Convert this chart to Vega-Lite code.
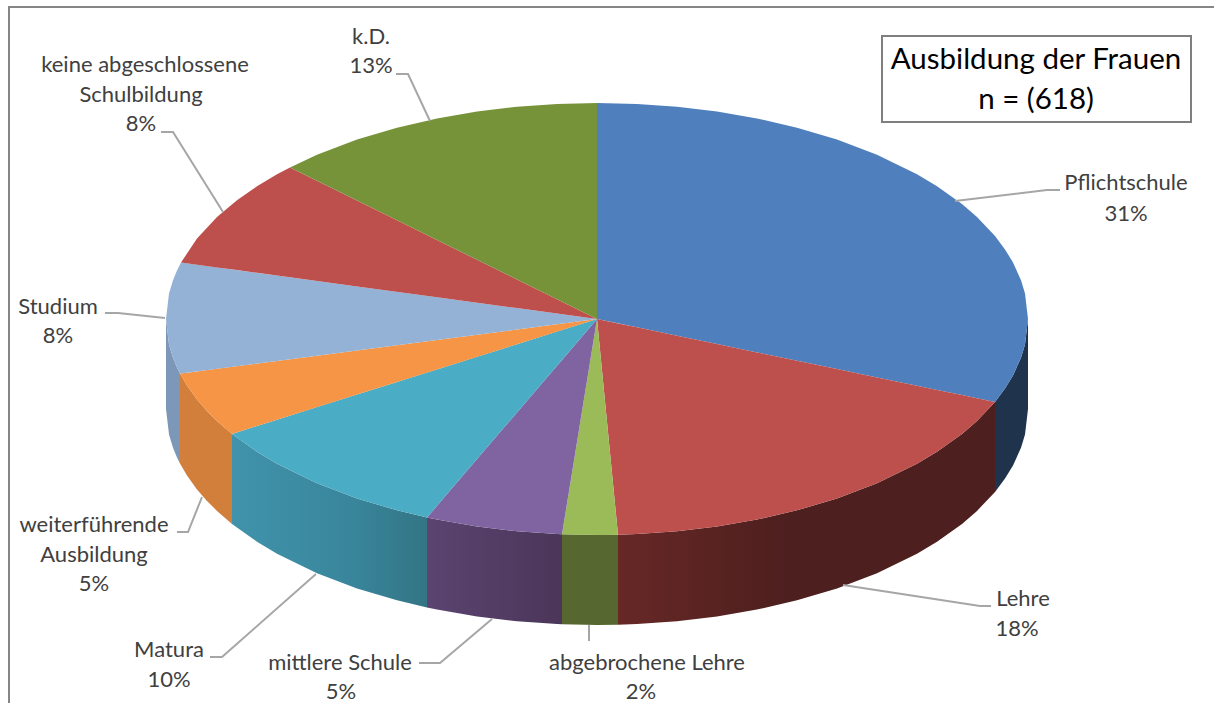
{
"$schema":"https://vega.github.io/schema/vega-lite/v6.json",
"autosize":{"type":"none"},
"width":1214,"height":703,"padding":0,"background":"white",
"config":{"view":{"stroke":null}},
"datasets":{
"walls":[
{"part":"Pflichtschule Seite","h":995,"v":401.9,"v2":491.9},{"part":"Pflichtschule Seite","h":1005,"v":388.6,"v2":478.6},{"part":"Pflichtschule Seite","h":1013,"v":375.5,"v2":465.5},{"part":"Pflichtschule Seite","h":1021,"v":357.8,"v2":447.8},{"part":"Pflichtschule Seite","h":1025,"v":344.4,"v2":434.4},{"part":"Pflichtschule Seite","h":1028,"v":319,"v2":409},
{"part":"Lehre Seite","h":618,"v":534.8,"v2":624.8},{"part":"Lehre Seite","h":637,"v":534.1,"v2":624.1},{"part":"Lehre Seite","h":677,"v":531.2,"v2":621.2},{"part":"Lehre Seite","h":717,"v":526.5,"v2":616.5},{"part":"Lehre Seite","h":757,"v":519.6,"v2":609.6},{"part":"Lehre Seite","h":797,"v":510.3,"v2":600.3},{"part":"Lehre Seite","h":837,"v":498.4,"v2":588.4},{"part":"Lehre Seite","h":877,"v":483.2,"v2":573.2},{"part":"Lehre Seite","h":917,"v":463.7,"v2":553.7},{"part":"Lehre Seite","h":937,"v":451.7,"v2":541.7},{"part":"Lehre Seite","h":962,"v":433.9,"v2":523.9},{"part":"Lehre Seite","h":977,"v":420.9,"v2":510.9},{"part":"Lehre Seite","h":995,"v":401.9,"v2":491.9},
{"part":"abgebrochene Lehre Seite","h":562,"v":534.3,"v2":624.3},{"part":"abgebrochene Lehre Seite","h":597,"v":535,"v2":625},{"part":"abgebrochene Lehre Seite","h":618,"v":534.8,"v2":624.8},
{"part":"mittlere Schule Seite","h":427,"v":517.5,"v2":607.5},{"part":"mittlere Schule Seite","h":437,"v":519.6,"v2":609.6},{"part":"mittlere Schule Seite","h":477,"v":526.5,"v2":616.5},{"part":"mittlere Schule Seite","h":517,"v":531.2,"v2":621.2},{"part":"mittlere Schule Seite","h":557,"v":534.1,"v2":624.1},{"part":"mittlere Schule Seite","h":562,"v":534.3,"v2":624.3},
{"part":"Matura Seite","h":232,"v":433.9,"v2":523.9},{"part":"Matura Seite","h":257,"v":451.7,"v2":541.7},{"part":"Matura Seite","h":277,"v":463.7,"v2":553.7},{"part":"Matura Seite","h":317,"v":483.2,"v2":573.2},{"part":"Matura Seite","h":357,"v":498.4,"v2":588.4},{"part":"Matura Seite","h":397,"v":510.3,"v2":600.3},{"part":"Matura Seite","h":427,"v":517.5,"v2":607.5},
{"part":"weiterführende Ausbildung Seite","h":180,"v":373.6,"v2":463.6},{"part":"weiterführende Ausbildung Seite","h":187,"v":385.6,"v2":475.6},{"part":"weiterführende Ausbildung Seite","h":197,"v":399.4,"v2":489.4},{"part":"weiterführende Ausbildung Seite","h":207,"v":411,"v2":501},{"part":"weiterführende Ausbildung Seite","h":217,"v":420.9,"v2":510.9},{"part":"weiterführende Ausbildung Seite","h":232,"v":433.9,"v2":523.9},
{"part":"Studium Seite","h":166,"v":319,"v2":409},{"part":"Studium Seite","h":169,"v":344.4,"v2":434.4},{"part":"Studium Seite","h":173,"v":357.8,"v2":447.8},{"part":"Studium Seite","h":177,"v":367.5,"v2":457.5},{"part":"Studium Seite","h":180,"v":373.6,"v2":463.6}
],
"tops":[
{"part":"Pflichtschule","h":597,"v":103,"v2":319},{"part":"Pflichtschule","h":637,"v":103.9,"v2":327.3},{"part":"Pflichtschule","h":677,"v":106.8,"v2":335.7},{"part":"Pflichtschule","h":717,"v":111.5,"v2":344},{"part":"Pflichtschule","h":757,"v":118.4,"v2":352.4},{"part":"Pflichtschule","h":797,"v":127.7,"v2":360.7},{"part":"Pflichtschule","h":837,"v":139.6,"v2":369},{"part":"Pflichtschule","h":877,"v":154.8,"v2":377.4},{"part":"Pflichtschule","h":917,"v":174.3,"v2":385.7},{"part":"Pflichtschule","h":937,"v":186.3,"v2":389.9},{"part":"Pflichtschule","h":962,"v":204.1,"v2":395.1},{"part":"Pflichtschule","h":977,"v":217.1,"v2":398.2},{"part":"Pflichtschule","h":995,"v":236.1,"v2":402},{"part":"Pflichtschule","h":1005,"v":249.4,"v2":388.6},{"part":"Pflichtschule","h":1013,"v":262.5,"v2":375.5},{"part":"Pflichtschule","h":1021,"v":280.2,"v2":357.8},{"part":"Pflichtschule","h":1025,"v":293.6,"v2":344.4},{"part":"Pflichtschule","h":1028,"v":319,"v2":319},
{"part":"Lehre","h":597,"v":319,"v2":319},{"part":"Lehre","h":618,"v":323.4,"v2":534.8},{"part":"Lehre","h":637,"v":327.3,"v2":534.1},{"part":"Lehre","h":677,"v":335.7,"v2":531.2},{"part":"Lehre","h":717,"v":344,"v2":526.5},{"part":"Lehre","h":757,"v":352.4,"v2":519.6},{"part":"Lehre","h":797,"v":360.7,"v2":510.3},{"part":"Lehre","h":837,"v":369,"v2":498.4},{"part":"Lehre","h":877,"v":377.4,"v2":483.2},{"part":"Lehre","h":917,"v":385.7,"v2":463.7},{"part":"Lehre","h":937,"v":389.9,"v2":451.7},{"part":"Lehre","h":962,"v":395.1,"v2":433.9},{"part":"Lehre","h":977,"v":398.2,"v2":420.9},{"part":"Lehre","h":995,"v":402,"v2":401.9},
{"part":"abgebrochene Lehre","h":562,"v":534.3,"v2":534.3},{"part":"abgebrochene Lehre","h":580,"v":423.6,"v2":534.8},{"part":"abgebrochene Lehre","h":597,"v":319,"v2":535},{"part":"abgebrochene Lehre","h":608,"v":432,"v2":535},{"part":"abgebrochene Lehre","h":618,"v":534.8,"v2":534.8},
{"part":"mittlere Schule","h":427,"v":517.5,"v2":517.5},{"part":"mittlere Schule","h":437,"v":505.8,"v2":519.6},{"part":"mittlere Schule","h":477,"v":459.1,"v2":526.5},{"part":"mittlere Schule","h":517,"v":412.4,"v2":531.2},{"part":"mittlere Schule","h":557,"v":365.7,"v2":534.1},{"part":"mittlere Schule","h":562,"v":359.9,"v2":534.3},{"part":"mittlere Schule","h":597,"v":319,"v2":319},
{"part":"Matura","h":232,"v":433.9,"v2":433.9},{"part":"Matura","h":257,"v":426,"v2":451.7},{"part":"Matura","h":277,"v":419.7,"v2":463.7},{"part":"Matura","h":317,"v":407.1,"v2":483.2},{"part":"Matura","h":357,"v":394.6,"v2":498.4},{"part":"Matura","h":397,"v":382,"v2":510.3},{"part":"Matura","h":427,"v":372.5,"v2":517.5},{"part":"Matura","h":437,"v":369.4,"v2":505.8},{"part":"Matura","h":477,"v":356.8,"v2":459.1},{"part":"Matura","h":517,"v":344.2,"v2":412.4},{"part":"Matura","h":557,"v":331.6,"v2":365.7},{"part":"Matura","h":597,"v":319,"v2":319},
{"part":"weiterführende Ausbildung","h":180,"v":373.6,"v2":373.6},{"part":"weiterführende Ausbildung","h":187,"v":372.7,"v2":385.6},{"part":"weiterführende Ausbildung","h":197,"v":371.4,"v2":399.4},{"part":"weiterführende Ausbildung","h":207,"v":370.1,"v2":411},{"part":"weiterführende Ausbildung","h":217,"v":368.7,"v2":420.9},{"part":"weiterführende Ausbildung","h":232,"v":366.8,"v2":433.9},{"part":"weiterführende Ausbildung","h":277,"v":360.9,"v2":419.7},{"part":"weiterführende Ausbildung","h":357,"v":350.4,"v2":394.6},{"part":"weiterführende Ausbildung","h":437,"v":339.9,"v2":369.4},{"part":"weiterführende Ausbildung","h":517,"v":329.5,"v2":344.2},{"part":"weiterführende Ausbildung","h":597,"v":319,"v2":319},
{"part":"Studium","h":166,"v":319,"v2":319},{"part":"Studium","h":169,"v":293.6,"v2":344.4},{"part":"Studium","h":173,"v":280.2,"v2":357.8},{"part":"Studium","h":177,"v":270.5,"v2":367.5},{"part":"Studium","h":180,"v":264.4,"v2":373.6},{"part":"Studium","h":181,"v":262.5,"v2":373.5},{"part":"Studium","h":277,"v":275.5,"v2":360.9},{"part":"Studium","h":357,"v":286.4,"v2":350.4},{"part":"Studium","h":437,"v":297.3,"v2":339.9},{"part":"Studium","h":517,"v":308.1,"v2":329.5},{"part":"Studium","h":597,"v":319,"v2":319},
{"part":"keine abgeschlossene Schulbildung","h":181,"v":262.5,"v2":262.5},{"part":"keine abgeschlossene Schulbildung","h":197,"v":238.6,"v2":264.7},{"part":"keine abgeschlossene Schulbildung","h":217,"v":217.1,"v2":267.4},{"part":"keine abgeschlossene Schulbildung","h":237,"v":200.2,"v2":270.1},{"part":"keine abgeschlossene Schulbildung","h":257,"v":186.3,"v2":272.8},{"part":"keine abgeschlossene Schulbildung","h":277,"v":174.3,"v2":275.5},{"part":"keine abgeschlossene Schulbildung","h":290,"v":167.4,"v2":277.3},{"part":"keine abgeschlossene Schulbildung","h":357,"v":200.5,"v2":286.4},{"part":"keine abgeschlossene Schulbildung","h":437,"v":240,"v2":297.3},{"part":"keine abgeschlossene Schulbildung","h":517,"v":279.5,"v2":308.1},{"part":"keine abgeschlossene Schulbildung","h":597,"v":319,"v2":319},
{"part":"k.D.","h":290,"v":167.4,"v2":167.4},{"part":"k.D.","h":317,"v":154.8,"v2":180.7},{"part":"k.D.","h":357,"v":139.6,"v2":200.5},{"part":"k.D.","h":397,"v":127.7,"v2":220.2},{"part":"k.D.","h":437,"v":118.4,"v2":240},{"part":"k.D.","h":477,"v":111.5,"v2":259.7},{"part":"k.D.","h":517,"v":106.8,"v2":279.5},{"part":"k.D.","h":557,"v":103.9,"v2":299.2},{"part":"k.D.","h":597,"v":103,"v2":319}
],
"leaders":[
{"name":"Pflichtschule","s":1,"h":955,"v":201},{"name":"Pflichtschule","s":2,"h":1047,"v":190},{"name":"Pflichtschule","s":3,"h":1060,"v":190},
{"name":"Lehre","s":1,"h":843,"v":585},{"name":"Lehre","s":2,"h":980,"v":606},{"name":"Lehre","s":3,"h":991,"v":606},
{"name":"abgebrochene Lehre","s":1,"h":589,"v":625},{"name":"abgebrochene Lehre","s":2,"h":589,"v":641},
{"name":"mittlere Schule","s":1,"h":492,"v":619},{"name":"mittlere Schule","s":2,"h":440,"v":663},{"name":"mittlere Schule","s":3,"h":419,"v":663},
{"name":"Matura","s":1,"h":316,"v":574},{"name":"Matura","s":2,"h":222,"v":657},{"name":"Matura","s":3,"h":210,"v":657},
{"name":"weiterführende Ausbildung","s":1,"h":202,"v":497},{"name":"weiterführende Ausbildung","s":2,"h":188,"v":532},{"name":"weiterführende Ausbildung","s":3,"h":177,"v":532},
{"name":"Studium","s":1,"h":165,"v":318},{"name":"Studium","s":2,"h":118,"v":313},{"name":"Studium","s":3,"h":105,"v":313},
{"name":"keine abgeschlossene Schulbildung","s":1,"h":223,"v":212},{"name":"keine abgeschlossene Schulbildung","s":2,"h":173,"v":132},{"name":"keine abgeschlossene Schulbildung","s":3,"h":161,"v":132},
{"name":"k.D.","s":1,"h":430,"v":121},{"name":"k.D.","s":2,"h":408,"v":74},{"name":"k.D.","s":3,"h":396,"v":74}
],
"labels":[
{"t":"Pflichtschule","h":1126,"v":183},{"t":"31%","h":1126,"v":214},
{"t":"Lehre","h":1023,"v":599},{"t":"18%","h":1017,"v":629},
{"t":"abgebrochene Lehre","h":647,"v":663},{"t":"2%","h":641,"v":692},
{"t":"mittlere Schule","h":340,"v":663},{"t":"5%","h":341,"v":692},
{"t":"Matura","h":169,"v":650},{"t":"10%","h":169,"v":680},
{"t":"weiterführende","h":94,"v":525},{"t":"Ausbildung","h":94,"v":555},{"t":"5%","h":94,"v":584},
{"t":"Studium","h":58,"v":307},{"t":"8%","h":58,"v":336},
{"t":"keine abgeschlossene","h":145,"v":65},{"t":"Schulbildung","h":141,"v":95},{"t":"8%","h":141,"v":124},
{"t":"k.D.","h":371,"v":37},{"t":"13%","h":371,"v":66}
],
"frame":[{"s":1,"h":9,"v":703},{"s":2,"h":9,"v":7},{"s":3,"h":1214,"v":7}],
"box":[{"h":882,"h2":1191,"v":36,"v2":122}],
"titles":[{"t":"Ausbildung der Frauen","h":1036,"v":60},{"t":"n = (618)","h":1036,"v":100}]
},
"encoding":{
"x":{"field":"h","type":"quantitative","scale":{"domain":[0,1214],"nice":false,"zero":false},"axis":null},
"y":{"field":"v","type":"quantitative","scale":{"domain":[703,0],"nice":false,"zero":false},"axis":null}
},
"layer":[
{"data":{"name":"frame"},"mark":{"type":"line","color":"#868686","strokeWidth":2},"encoding":{"order":{"field":"s"}}},
{"data":{"name":"walls"},"transform":[{"filter":"datum.part=='Lehre Seite'"}],"mark":{"type":"area","color":{"x1":0,"x2":1,"y1":0,"y2":0,"gradient":"linear","stops":[{"offset":0,"color":"#672826"},{"offset":0.45,"color":"#4d1f1e"},{"offset":1,"color":"#4d1f1e"}]}},"encoding":{"y2":{"field":"v2"}}},
{"data":{"name":"walls"},"transform":[{"filter":"datum.part=='mittlere Schule Seite'"}],"mark":{"type":"area","color":{"x1":0,"x2":1,"y1":0,"y2":0,"gradient":"linear","stops":[{"offset":0,"color":"#5b4470"},{"offset":1,"color":"#4b3659"}]}},"encoding":{"y2":{"field":"v2"}}},
{"data":{"name":"walls"},"transform":[{"filter":"datum.part=='Matura Seite'"}],"mark":{"type":"area","color":{"x1":0,"x2":1,"y1":0,"y2":0,"gradient":"linear","stops":[{"offset":0,"color":"#4093ab"},{"offset":0.6,"color":"#39869c"},{"offset":1,"color":"#337585"}]}},"encoding":{"y2":{"field":"v2"}}},
{"data":{"name":"walls"},"transform":[{"filter":"indexof(['Pflichtschule Seite','abgebrochene Lehre Seite','weiterführende Ausbildung Seite','Studium Seite'],datum.part)>=0"}],"mark":{"type":"area"},"encoding":{"y2":{"field":"v2"},"color":{"field":"part","type":"nominal","legend":null,"scale":{"domain":["Pflichtschule Seite","abgebrochene Lehre Seite","weiterführende Ausbildung Seite","Studium Seite"],"range":["#1f344c","#56682f","#d17f3a","#7d97b8"]}}}},
{"data":{"name":"tops"},"mark":{"type":"area"},"encoding":{"y2":{"field":"v2"},"fill":{"field":"part","type":"nominal","legend":null,"scale":{"domain":["Pflichtschule","Lehre","abgebrochene Lehre","mittlere Schule","Matura","weiterführende Ausbildung","Studium","keine abgeschlossene Schulbildung","k.D."],"range":["#4f7fbc","#bd4f4c","#9bbb59","#8063a1","#4aacc5","#f59545","#94b2d6","#bd4f4c","#779339"]}}}},
{"data":{"name":"leaders"},"mark":{"type":"line","color":"#a6a6a6","strokeWidth":2},"encoding":{"detail":{"field":"name"},"order":{"field":"s"}}},
{"data":{"name":"labels"},"mark":{"type":"text","font":"Lato","fontSize":22,"color":"#404040","align":"center","baseline":"middle"},"encoding":{"text":{"field":"t"}}},
{"data":{"name":"box"},"mark":{"type":"rect","fill":"white","stroke":"#7f7f7f","strokeWidth":2},"encoding":{"x2":{"field":"h2"},"y2":{"field":"v2"}}},
{"data":{"name":"titles"},"mark":{"type":"text","font":"Lato","fontSize":29.5,"color":"#000000","align":"center","baseline":"middle"},"encoding":{"text":{"field":"t"}}}
]
}
